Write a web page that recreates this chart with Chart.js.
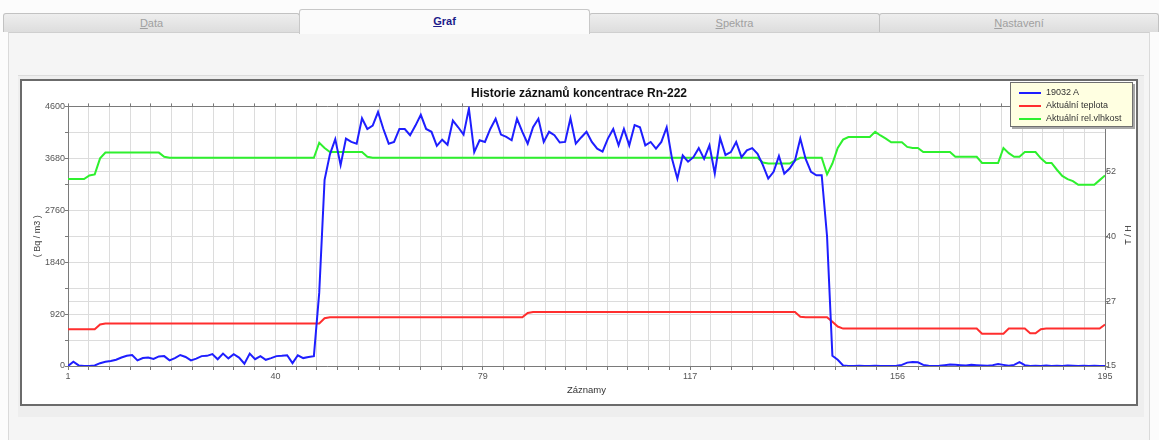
<!DOCTYPE html>
<html>
<head>
<meta charset="utf-8">
<script src="https://cdn.jsdelivr.net/npm/chart.js@4.4.0/dist/chart.umd.min.js"></script>
<style>
html,body{margin:0;padding:0;width:1159px;height:440px;overflow:hidden;background:#fcfcfc;font-family:"Liberation Sans",Arial,sans-serif;}
.tab{position:absolute;top:13px;height:19px;background:linear-gradient(#eeeeee,#dddddd);border:1px solid #c2c2c2;border-bottom:none;border-radius:3px 3px 0 0;color:#a0a0a0;font-size:11px;text-align:center;line-height:19px;box-sizing:border-box;}
.tab.active{top:9px;height:25px;background:#fbfbfb;color:#1c1c8a;font-weight:bold;line-height:22px;z-index:2;border-color:#c8c8c8;}
.tab u{text-decoration:underline;}
#panel{position:absolute;left:8px;top:32px;width:1142px;height:408px;background:#f5f5f5;border-left:1px solid #dadada;border-right:1px solid #dadada;border-top:1px solid #cfcfcf;box-sizing:border-box;}
#inner{position:absolute;left:18px;top:75px;width:1126px;height:342px;background:#eeeeee;border-top:1px solid #dcdcdc;box-sizing:border-box;}
#frame{position:absolute;left:20px;top:79px;width:1118px;height:327px;border:2px solid #6b6b6b;background:#ffffff;box-sizing:border-box;}
#c{position:absolute;left:0;top:0;}
#legend{position:absolute;left:1010px;top:82px;width:123px;height:45px;background:#ffffe1;border:1px solid #707070;box-shadow:2px 2px 0 #a8a8a8;box-sizing:border-box;font-size:9px;color:#333;z-index:5;}
#legend .row{position:absolute;left:8px;height:12px;line-height:12px;white-space:nowrap;}
#legend .sw{display:inline-block;width:22px;height:2px;vertical-align:middle;margin-right:5px;}
#rtitle{position:absolute;left:1108px;top:229px;width:40px;height:12px;line-height:12px;text-align:center;font-size:9px;color:#333;transform:rotate(-90deg);}
</style>
</head>
<body>
<div class="tab" style="left:3px;width:297px;"><u>D</u>ata</div>
<div class="tab active" style="left:299px;width:291px;"><u>G</u>raf</div>
<div class="tab" style="left:589px;width:291px;"><u>S</u>pektra</div>
<div class="tab" style="left:879px;width:280px;"><u>N</u>astavení</div>
<div id="panel"></div>
<div id="inner"></div>
<div id="frame"><canvas id="c" width="1114" height="323"></canvas></div>
<div id="legend"></div>
<div id="rtitle">T / H</div>
<script>
// ---------- DATA ----------
const chartTitle = 'Historie záznamů koncentrace Rn-222';
const xTitle = 'Záznamy';
const yTitle = '( Bq / m3 )';
const y2Title = 'T / H';
const seriesNames = ['19032 A', 'Aktuální teplota', 'Aktuální rel.vlhkost'];

const records = [
  1,2,3,4,5,6,7,8,9,10,11,12,13,14,15,16,17,18,19,20,
  21,22,23,24,25,26,27,28,29,30,31,32,33,34,35,36,37,38,39,40,
  41,42,43,44,45,46,47,48,49,50,51,52,53,54,55,56,57,58,59,60,
  61,62,63,64,65,66,67,68,69,70,71,72,73,74,75,76,77,78,79,80,
  81,82,83,84,85,86,87,88,89,90,91,92,93,94,95,96,97,98,99,100,
  101,102,103,104,105,106,107,108,109,110,111,112,113,114,115,116,117,118,119,120,
  121,122,123,124,125,126,127,128,129,130,131,132,133,134,135,136,137,138,139,140,
  141,142,143,144,145,146,147,148,149,150,151,152,153,154,155,156,157,158,159,160,
  161,162,163,164,165,166,167,168,169,170,171,172,173,174,175,176,177,178,179,180,
  181,182,183,184,185,186,187,188,189,190,191,192,193,194,195
];

// Rn-222 concentration (Bq/m3), left axis
const radon = [
  0,75,10,0,0,10,50,75,90,110,
  150,180,195,100,140,150,125,170,175,100,
  140,195,160,100,130,175,180,210,120,220,
  135,210,150,40,220,120,175,110,140,175,
  180,190,50,190,140,160,175,1300,3300,3750,
  4020,3560,4030,3970,3940,4390,4200,4260,4500,4200,
  3940,3970,4200,4200,4090,4260,4450,4200,4150,3900,
  4010,3920,4350,4230,4100,4560,3790,4000,3970,4200,
  4380,4100,4060,4000,4380,4150,3940,4230,4380,3970,
  4150,4090,3960,3970,4390,3940,4050,4150,3970,3850,
  3800,4030,4200,3910,4200,3910,4270,4230,3910,3970,
  3850,3970,4230,3670,3320,3730,3620,3700,3860,3670,
  3910,3410,4040,3740,3790,3970,3700,3820,3860,3760,
  3560,3320,3440,3720,3410,3500,3640,4030,3670,3440,
  3380,3380,2300,180,110,10,0,0,5,0,
  0,5,0,0,0,5,20,60,70,65,
  20,5,0,5,15,25,20,15,10,20,
  15,10,5,15,35,20,5,20,70,15,
  0,5,0,10,0,5,0,10,5,0,
  5,0,5,0,0
];

// Temperature, right axis
const temperature = [
  22.1,22.1,22.1,22.1,22.1,22.1,23.0,23.2,23.2,23.2,
  23.2,23.2,23.2,23.2,23.2,23.2,23.2,23.2,23.2,23.2,
  23.2,23.2,23.2,23.2,23.2,23.2,23.2,23.2,23.2,23.2,
  23.2,23.2,23.2,23.2,23.2,23.2,23.2,23.2,23.2,23.2,
  23.2,23.2,23.2,23.2,23.2,23.2,23.2,23.2,24.2,24.4,
  24.4,24.4,24.4,24.4,24.4,24.4,24.4,24.4,24.4,24.4,
  24.4,24.4,24.4,24.4,24.4,24.4,24.4,24.4,24.4,24.4,
  24.4,24.4,24.4,24.4,24.4,24.4,24.4,24.4,24.4,24.4,
  24.4,24.4,24.4,24.4,24.4,24.4,25.2,25.4,25.4,25.4,
  25.4,25.4,25.4,25.4,25.4,25.4,25.4,25.4,25.4,25.4,
  25.4,25.4,25.4,25.4,25.4,25.4,25.4,25.4,25.4,25.4,
  25.4,25.4,25.4,25.4,25.4,25.4,25.4,25.4,25.4,25.4,
  25.4,25.4,25.4,25.4,25.4,25.4,25.4,25.4,25.4,25.4,
  25.4,25.4,25.4,25.4,25.4,25.4,25.4,24.5,24.4,24.4,
  24.4,24.4,24.4,23.5,22.6,22.2,22.2,22.2,22.2,22.2,
  22.2,22.2,22.2,22.2,22.2,22.2,22.2,22.2,22.2,22.2,
  22.2,22.2,22.2,22.2,22.2,22.2,22.2,22.2,22.2,22.2,
  22.2,21.2,21.2,21.2,21.2,21.2,22.2,22.2,22.2,22.2,
  21.3,21.3,22.1,22.2,22.2,22.2,22.2,22.2,22.2,22.2,
  22.2,22.2,22.2,22.2,23.0
];

// Relative humidity, right axis
const humidity = [
  51.0,51.0,51.0,51.0,51.7,51.9,55.0,56.1,56.1,56.1,
  56.1,56.1,56.1,56.1,56.1,56.1,56.1,56.1,55.3,55.1,
  55.1,55.1,55.1,55.1,55.1,55.1,55.1,55.1,55.1,55.1,
  55.1,55.1,55.1,55.1,55.1,55.1,55.1,55.1,55.1,55.1,
  55.1,55.1,55.1,55.1,55.1,55.1,55.1,58.0,57.0,56.2,
  56.2,56.2,56.2,56.2,56.2,56.2,55.3,55.1,55.1,55.1,
  55.1,55.1,55.1,55.1,55.1,55.1,55.1,55.1,55.1,55.1,
  55.1,55.1,55.1,55.1,55.1,55.1,55.1,55.1,55.1,55.1,
  55.1,55.1,55.1,55.1,55.1,55.1,55.1,55.1,55.1,55.1,
  55.1,55.1,55.1,55.1,55.1,55.1,55.1,55.1,55.1,55.1,
  55.1,55.1,55.1,55.1,55.1,55.1,55.1,55.1,55.1,55.1,
  55.1,55.1,55.1,55.1,55.1,55.1,55.1,55.1,55.1,55.1,
  55.1,55.1,55.1,55.1,55.1,55.1,55.1,55.1,55.1,55.1,
  54.2,54.0,54.0,54.0,54.0,54.0,54.6,55.1,55.1,55.1,
  55.1,55.1,51.9,54.0,57.0,58.6,59.1,59.1,59.1,59.1,
  59.1,60.1,59.4,58.8,58.1,58.1,58.1,57.2,57.0,57.0,
  56.2,56.2,56.2,56.2,56.2,56.2,55.3,55.3,55.3,55.3,
  55.3,54.1,54.1,54.1,54.1,57.0,56.0,55.3,55.3,56.2,
  56.2,56.2,55.0,54.1,54.1,52.8,51.6,51.0,50.6,49.9,
  49.9,49.9,49.9,50.8,51.7
];

const seriesColors = ['#1e1eff', '#ff2e2e', '#2ef02e'];
const xMin = 1, xMax = 195, xMinorDivisions = 50, xLabelEvery = 10;
const yMax = 4600, yStep = 460, yLabelStep = 920;
const y2Min = 15, y2Max = 65, y2Step = 12.5;

// ---------- CHART ----------
Chart.defaults.font.family = '"Liberation Sans", Arial, sans-serif';
const toXY = arr => records.map((r, i) => ({x: r, y: arr[i]}));
const xTicks = [];
for (let k = 0; k <= xMinorDivisions; k++) xTicks.push(xMin + (xMax - xMin) * k / xMinorDivisions);
const setXTicks = s => { s.ticks = xTicks.map(v => ({value: v})); };

const axisColor = '#7a7a7a', gridColor = '#dcdcdc', tickFont = {size: 9}, tickColor = '#555';

const chart = new Chart(document.getElementById('c'), {
  type: 'line',
  data: {
    datasets: [
      {label: seriesNames[0], data: toXY(radon), borderColor: seriesColors[0], yAxisID: 'y'},
      {label: seriesNames[1], data: toXY(temperature), borderColor: seriesColors[1], yAxisID: 'y2'},
      {label: seriesNames[2], data: toXY(humidity), borderColor: seriesColors[2], yAxisID: 'y2'}
    ]
  },
  options: {
    animation: false, responsive: false, devicePixelRatio: 1,
    elements: {line: {borderWidth: 2, tension: 0}, point: {radius: 0}},
    layout: {padding: {left: 0, right: 0, top: 0, bottom: 8}},
    plugins: {
      legend: {display: false},
      tooltip: {enabled: false},
      title: {display: true, text: chartTitle, color: '#111', font: {size: 12, weight: 'bold'}, padding: {top: 5, bottom: 6}}
    },
    scales: {
      x: {
        type: 'linear', position: 'bottom', min: xMin, max: xMax,
        afterBuildTicks: setXTicks,
        afterFit: s => { s.height = 30; },
        ticks: {autoSkip: false, maxRotation: 0, padding: 1, font: tickFont, color: tickColor,
                callback: (v, i) => (i % xLabelEvery === 0 ? String(Math.round(v)) : '')},
        grid: {color: gridColor, tickLength: 4, tickColor: axisColor},
        border: {color: axisColor, width: 1},
        title: {display: true, text: xTitle, color: '#333', font: {size: 9.5}, padding: 0}
      },
      xTop: {
        type: 'linear', position: 'top', min: xMin, max: xMax,
        afterBuildTicks: setXTicks,
        afterFit: s => { s.height = 0; },
        ticks: {display: false},
        grid: {drawOnChartArea: false, tickLength: 3, tickColor: axisColor},
        border: {color: axisColor, width: 1}
      },
      y: {
        type: 'linear', position: 'left', min: 0, max: yMax,
        afterFit: s => { s.width = 46; },
        ticks: {stepSize: yStep, padding: 0, font: tickFont, color: tickColor,
                callback: v => (v % yLabelStep === 0 ? String(v) : '')},
        grid: {color: gridColor, tickLength: 3, tickColor: axisColor},
        border: {color: axisColor, width: 1},
        title: {display: true, text: yTitle, color: '#444', font: {size: 9}, padding: {top: 10, bottom: 0}}
      },
      y2: {
        type: 'linear', position: 'right', min: y2Min, max: y2Max,
        afterFit: s => { s.width = 31; },
        ticks: {stepSize: y2Step, padding: -2, font: tickFont, color: tickColor,
                callback: v => String(Math.floor(v))},
        grid: {color: gridColor, tickLength: 3, tickColor: axisColor},
        border: {color: axisColor, width: 1}
      }
    }
  }
});

// HTML legend built from datasets
const lg = document.getElementById('legend');
chart.data.datasets.forEach((ds, i) => {
  const row = document.createElement('div');
  row.className = 'row';
  row.style.top = (3 + i * 13) + 'px';
  const sw = document.createElement('span');
  sw.className = 'sw';
  sw.style.background = ds.borderColor;
  row.appendChild(sw);
  row.appendChild(document.createTextNode(ds.label));
  lg.appendChild(row);
});
document.getElementById('rtitle').textContent = y2Title;
</script>
</body>
</html>
